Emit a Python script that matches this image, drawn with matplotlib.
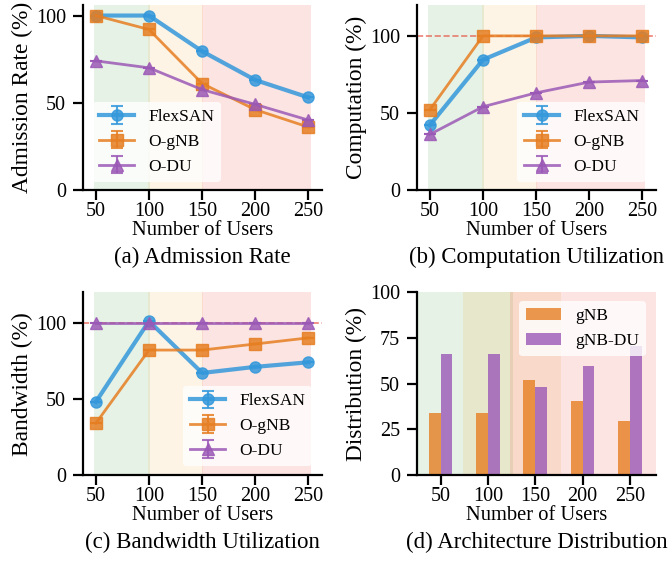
import numpy as np
import matplotlib.pyplot as plt

plt.rcParams['font.family'] = ['Liberation Serif', 'DejaVu Serif']

users = [50, 100, 150, 200, 250]
methods = ['FlexSAN', 'O-gNB', 'O-DU']

# admission rate (%)
adm_flex = [100, 100, 79.5, 63, 53]
adm_ognb = [100, 92, 61, 46, 36]
adm_odu = [74, 70, 57.5, 49, 40]

# computation utilization (%)
comp_flex = [42, 84.5, 99, 100, 99]
comp_ognb = [52, 100, 100, 100, 100]
comp_odu = [36, 54, 63, 70, 71]

# bandwidth utilization (%)
bw_flex = [48, 101, 67, 71, 74]
bw_ognb = [34, 82, 82, 86, 90]
bw_odu = [100, 100, 100, 100, 100]

# run-to-run std, too small to see
std = [0, 0, 0, 0, 0]

# architecture distribution (%)
arch_labels = ['gNB', 'gNB-DU']
dist_gnb = [34, 34, 52, 40.5, 29.5]
dist_gnbdu = [66, 66, 48, 59.5, 70.5]

colors = {'FlexSAN': '#3498db', 'O-gNB': '#e67e22', 'O-DU': '#9b59b6'}
markers = {'FlexSAN': 'o', 'O-gNB': 's', 'O-DU': '^'}
widths = {'FlexSAN': 3.0, 'O-gNB': 2.0, 'O-DU': 2.0}

fig = plt.figure(figsize=(6.68, 5.65), dpi=100)
ax_a = fig.add_axes([0.124, 0.664, 0.358, 0.327])
ax_b = fig.add_axes([0.624, 0.664, 0.358, 0.327])
ax_c = fig.add_axes([0.124, 0.159, 0.358, 0.324])
ax_d = fig.add_axes([0.624, 0.159, 0.358, 0.324])

leg_kw = dict(fontsize=12.5, frameon=True, fancybox=True, framealpha=0.8,
              edgecolor='none', handlelength=2.0, borderaxespad=0)


def shade(ax):
    ax.axvspan(48, 101, color='green', alpha=0.1, lw=0, zorder=0)
    ax.axvspan(99.5, 151, color='#f39c12', alpha=0.1, lw=0, zorder=0)
    ax.axvspan(149.5, 252.5, color='#e74c3c', alpha=0.15, lw=0, zorder=0)


def style(ax, ylabel):
    for s in ['top', 'right']:
        ax.spines[s].set_visible(False)
    for s in ['left', 'bottom']:
        ax.spines[s].set_linewidth(1.6)
    ax.tick_params(axis='both', labelsize=14.5, width=1.6, length=7, direction='out')
    ax.tick_params(axis='x', pad=1.5)
    ax.tick_params(axis='y', pad=5)
    ax.set_ylabel(ylabel, fontsize=16.8, labelpad=2)
    ax.set_xlabel('Number of Users', fontsize=14.8, labelpad=0)


def lines(ax, series, ylabel, ylim, loc, anchor, hline=False):
    shade(ax)
    if hline:
        ax.axhline(100, color='#e74c3c', ls='--', lw=1.2, alpha=0.7, zorder=1)
    for name, vals in zip(methods, series):
        ax.errorbar(users, vals, yerr=std, color=colors[name], marker=markers[name],
                    markersize=8, lw=widths[name], capsize=4, capthick=1.5,
                    elinewidth=1.5, alpha=0.85, label=name, zorder=3)
    ax.set_xticks(users)
    ax.set_ylim(*ylim)
    ax.set_yticks([0, 50, 100])
    style(ax, ylabel)
    ax.legend(loc=loc, bbox_to_anchor=anchor, **leg_kw)


lines(ax_a, [adm_flex, adm_ognb, adm_odu], 'Admission Rate (%)', (0, 106),
      'lower left', (0.04, 0.045))
lines(ax_b, [comp_flex, comp_ognb, comp_odu], 'Computation (%)', (0, 120),
      'lower right', (0.958, 0.045), hline=True)
lines(ax_c, [bw_flex, bw_ognb, bw_odu], 'Bandwidth (%)', (0, 120),
      'lower right', (0.958, 0.05), hline=True)

# architecture distribution bars
pos = np.arange(len(users))
bw = 0.25
ax_d.axvspan(-0.5, 1.54, color='green', alpha=0.1, lw=0, zorder=0)
ax_d.axvspan(0.47, 2.54, color='#f39c12', alpha=0.12, lw=0, zorder=0)
ax_d.axvspan(1.47, 4.55, color='#e74c3c', alpha=0.15, lw=0, zorder=0)
ax_d.bar(pos - bw / 2, dist_gnb, bw, color='#e67e22', alpha=0.8, label=arch_labels[0], zorder=2)
ax_d.bar(pos + bw / 2, dist_gnbdu, bw, color='#9b59b6', alpha=0.8, label=arch_labels[1], zorder=2)
ax_d.set_xlim(-0.5, 4.55)
ax_d.set_ylim(0, 100)
ax_d.set_yticks([0, 25, 50, 75, 100])
ax_d.set_xticks(pos)
ax_d.set_xticklabels([str(u) for u in users])
style(ax_d, 'Distribution (%)')
ax_d.legend(loc='upper right', bbox_to_anchor=(0.958, 0.95), **leg_kw)

captions = ['(a) Admission Rate', '(b) Computation Utilization',
            '(c) Bandwidth Utilization', '(d) Architecture Distribution']
for ax, cap in zip([ax_a, ax_b, ax_c, ax_d], captions):
    ax.text(0.5, -0.31, cap, transform=ax.transAxes, ha='center', va='top', fontsize=16.5)

fig.savefig('out.png', dpi=100)
